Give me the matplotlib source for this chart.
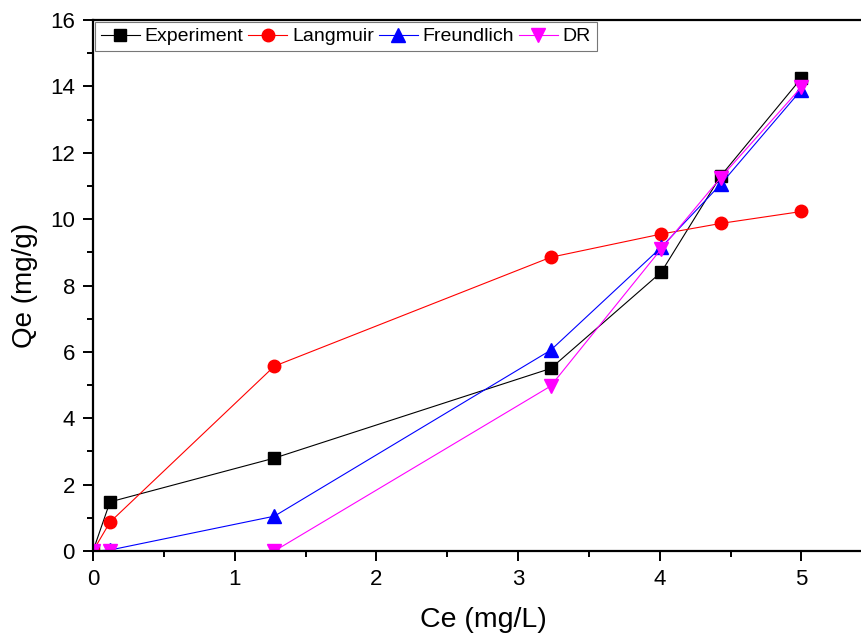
import matplotlib.pyplot as plt
from matplotlib.ticker import MultipleLocator

plt.rcParams['font.family'] = ['Liberation Sans', 'DejaVu Sans']

# values
ce = [0, 0.12, 1.28, 3.23, 4.01, 4.43, 5.0]
experiment = [0, 1.48, 2.80, 5.50, 8.40, 11.30, 14.25]
langmuir = [0, 0.87, 5.57, 8.85, 9.55, 9.87, 10.23]
freundlich = [0, 0.03, 1.05, 6.05, 9.15, 11.05, 13.90]
dr = [0, 0.0, 0.0, 4.97, 9.10, 11.25, 13.98]

fig = plt.figure(figsize=(8.61, 6.36), dpi=100)
ax = fig.add_axes([0.108, 0.1336, 0.892, 0.835])

ax.plot(ce, experiment, color='black', marker='s', ms=8.5, lw=0.8, label='Experiment')
ax.plot(ce, langmuir, color='red', marker='o', ms=9, lw=0.8, label='Langmuir')
ax.plot(ce, freundlich, color='blue', marker='^', ms=10, lw=0.8, label='Freundlich')
ax.plot(ce, dr, color='magenta', marker='v', ms=10, lw=0.8, label='DR')

ax.set_xlim(0, 5.42)
ax.set_ylim(0, 16)
ax.xaxis.set_major_locator(MultipleLocator(1))
ax.xaxis.set_minor_locator(MultipleLocator(0.5))
ax.yaxis.set_major_locator(MultipleLocator(2))
ax.yaxis.set_minor_locator(MultipleLocator(1))

for s in ['left', 'bottom', 'top']:
    ax.spines[s].set_linewidth(1.6)
ax.spines['right'].set_visible(False)
ax.tick_params(which='major', direction='out', length=7, width=1.4, labelsize=16, pad=6)
ax.tick_params(which='minor', direction='out', length=4, width=1.4)
ax.tick_params(top=False, right=False)

ax.set_xlabel('Ce (mg/L)', fontsize=20.5)
ax.set_ylabel('Qe (mg/g)', fontsize=20)
ax.xaxis.set_label_coords(0.508, -0.106)
ax.yaxis.set_label_coords(-0.072, 0.5)

leg = ax.legend(loc='upper left', ncol=4, frameon=True, fancybox=False, fontsize=14,
                edgecolor='#555555', handlelength=2.0, handletextpad=0.25,
                columnspacing=0.25, borderpad=0.3, borderaxespad=0.1)
leg.get_frame().set_linewidth(0.8)

fig.savefig('out.png', dpi=100)
